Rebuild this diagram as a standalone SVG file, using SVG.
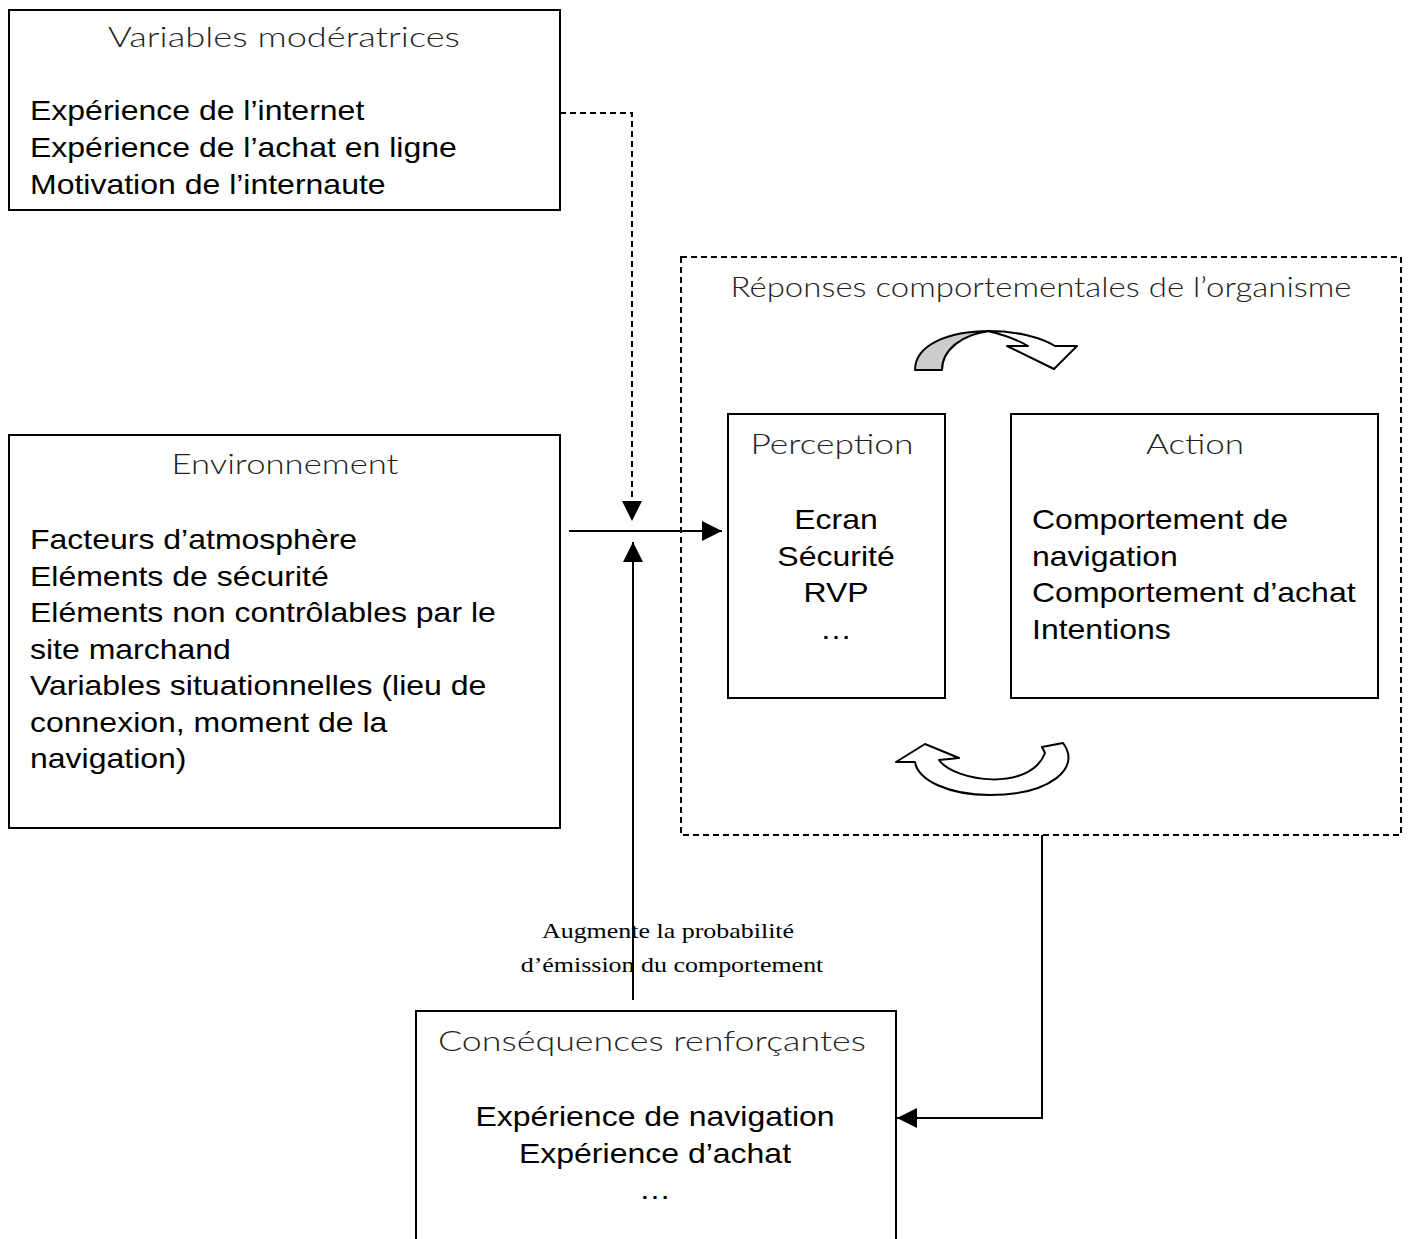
<svg xmlns="http://www.w3.org/2000/svg" width="1410" height="1239" viewBox="0 0 1410 1239">
<style>
.box{fill:#fff;stroke:#000;stroke-width:2}
.dbox{fill:none;stroke:#000;stroke-width:2;stroke-dasharray:6 4}
.hd{font-family:Lato,"Open Sans","DejaVu Sans",sans-serif;font-weight:300;font-size:27px;fill:#222}
.bd{font-family:"Liberation Sans",Arial,sans-serif;font-size:27px;fill:#000}
.tm{font-family:"Liberation Serif","Times New Roman",serif;font-size:22px;fill:#000}
.c{text-anchor:middle}
.ln{fill:none;stroke:#000;stroke-width:2}
.dl{fill:none;stroke:#000;stroke-width:2;stroke-dasharray:6 4}
.cv{stroke:#000;stroke-width:2;stroke-linejoin:round}
</style>
<defs>
<marker id="ah" viewBox="0 0 20 20" refX="20" refY="10" markerWidth="20" markerHeight="20" markerUnits="userSpaceOnUse" orient="auto">
<path d="M0,0 L20,10 L0,20 Z" fill="#000"/>
</marker>
</defs>

<g id="moderatrices">
<rect class="box" x="9" y="10" width="551" height="200"/>
<text class="hd c" x="284" y="47" textLength="352" lengthAdjust="spacingAndGlyphs">Variables modératrices</text>
<text class="bd" transform="translate(30,120) scale(1.185,1)">Expérience de l’internet</text>
<text class="bd" transform="translate(30,157) scale(1.185,1)">Expérience de l’achat en ligne</text>
<text class="bd" transform="translate(30,194) scale(1.185,1)">Motivation de l’internaute</text>
</g>

<g id="environnement">
<rect class="box" x="9" y="435" width="551" height="393"/>
<text class="hd c" x="285" y="474" textLength="227" lengthAdjust="spacingAndGlyphs">Environnement</text>
<text class="bd" transform="translate(30,549) scale(1.185,1)">Facteurs d’atmosphère</text>
<text class="bd" transform="translate(30,585.5) scale(1.185,1)">Eléments de sécurité</text>
<text class="bd" transform="translate(30,622) scale(1.185,1)">Eléments non contrôlables par le</text>
<text class="bd" transform="translate(30,658.5) scale(1.185,1)">site marchand</text>
<text class="bd" transform="translate(30,695) scale(1.185,1)">Variables situationnelles (lieu de</text>
<text class="bd" transform="translate(30,731.5) scale(1.185,1)">connexion, moment de la</text>
<text class="bd" transform="translate(30,768) scale(1.185,1)">navigation)</text>
</g>

<g id="reponses">
<rect class="dbox" x="681" y="257" width="720" height="578"/>
<text class="hd c" x="1041" y="297" textLength="621" lengthAdjust="spacingAndGlyphs">Réponses comportementales de l’organisme</text>
</g>

<g id="perception">
<rect class="box" x="728" y="414" width="217" height="284"/>
<text class="hd c" x="832" y="454" textLength="163" lengthAdjust="spacingAndGlyphs">Perception</text>
<text class="bd c" transform="translate(836,529) scale(1.185,1)">Ecran</text>
<text class="bd c" transform="translate(836,565.5) scale(1.185,1)">Sécurité</text>
<text class="bd c" transform="translate(836,602) scale(1.185,1)">RVP</text>
<text class="bd c" transform="translate(836,638.5) scale(1.185,1)">…</text>
</g>

<g id="action">
<rect class="box" x="1011" y="414" width="367" height="284"/>
<text class="hd c" x="1195" y="454" textLength="98" lengthAdjust="spacingAndGlyphs">Action</text>
<text class="bd" transform="translate(1032,529) scale(1.185,1)">Comportement de</text>
<text class="bd" transform="translate(1032,565.5) scale(1.185,1)">navigation</text>
<text class="bd" transform="translate(1032,602) scale(1.185,1)">Comportement d’achat</text>
<text class="bd" transform="translate(1032,638.5) scale(1.185,1)">Intentions</text>
</g>

<g id="cycle-top">
<path class="cv" fill="#ccc" d="M915,370 C915,345 948,331 990,331 C962,334 942,350 942,370 Z"/>
<path class="cv" fill="#fff" d="M988,331 C1018,331 1042,338 1055,346 L1077,346 L1054,369 L1007,346 L1028,346 C1015,338 1000,334 988,331 Z"/>
</g>

<g id="cycle-bottom">
<path class="cv" fill="#fff" d="M896,762 L925,744 L959,758 L939,760 C955,782 1030,792 1045,753 L1042,747 L1063,743 C1082,768 1050,795 990,795 C948,795 918,780 915,762 Z"/>
</g>

<g id="consequences">
<rect class="box" x="416" y="1011" width="480" height="240"/>
<text class="hd c" x="652" y="1051" textLength="428" lengthAdjust="spacingAndGlyphs">Conséquences renforçantes</text>
<text class="bd c" transform="translate(655,1126) scale(1.185,1)">Expérience de navigation</text>
<text class="bd c" transform="translate(655,1162.5) scale(1.185,1)">Expérience d’achat</text>
<text class="bd c" transform="translate(655,1199) scale(1.185,1)">…</text>
</g>

<g id="connectors">
<path class="dl" d="M560,113 H632 V521" marker-end="url(#ah)"/>
<path class="ln" d="M569,531 H722" marker-end="url(#ah)"/>
<path class="ln" d="M633,1000 V542" marker-end="url(#ah)"/>
<path class="ln" d="M1042,835 V1118 H897" marker-end="url(#ah)"/>
<text class="tm c" transform="translate(668,938) scale(1.18,1)">Augmente la probabilité</text>
<text class="tm c" transform="translate(672,972) scale(1.18,1)">d’émission du comportement</text>
</g>
</svg>
